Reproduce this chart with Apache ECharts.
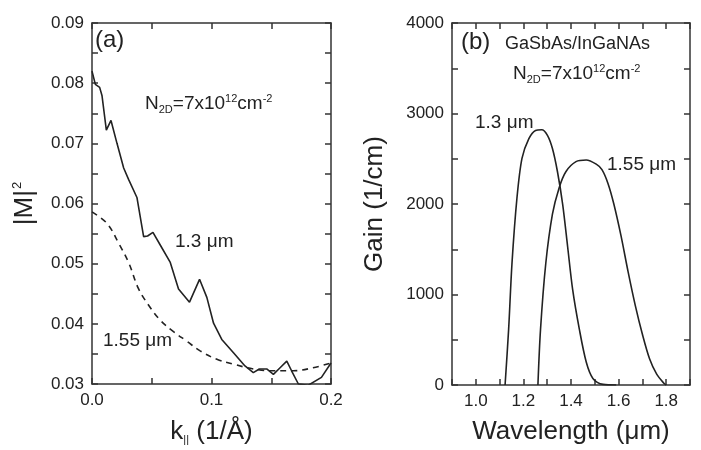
<!DOCTYPE html>
<html lang="en">
<head>
<meta charset="utf-8">
<title>|M|^2 and Gain</title>
<script src="https://cdn.jsdelivr.net/npm/echarts@6/dist/echarts.min.js"></script>
<style>
  html, body { margin: 0; padding: 0; background: #fff; }
  #chart { width: 701px; height: 450px; }
</style>
</head>
<body>
<div id="chart"></div>
<script type="text/javascript">
// (a) momentum matrix element vs k_parallel
var k13 = [0, 0.0028, 0.0064, 0.0084, 0.012, 0.0159, 0.0209, 0.0265, 0.0306, 0.0376, 0.0432, 0.0465, 0.051, 0.0571, 0.0655, 0.0724, 0.0816, 0.090, 0.0961, 0.1017, 0.1086, 0.1184, 0.128, 0.135, 0.140, 0.1462, 0.1518, 0.1574, 0.163, 0.167, 0.1727, 0.181, 0.192, 0.2];
var m13 = [0.0820, 0.0798, 0.0793, 0.0779, 0.0722, 0.0738, 0.0700, 0.0659, 0.0640, 0.0610, 0.0545, 0.0546, 0.0552, 0.0531, 0.0502, 0.0458, 0.0436, 0.0474, 0.0444, 0.0401, 0.0374, 0.0352, 0.0330, 0.0319, 0.0325, 0.0325, 0.0316, 0.0327, 0.0338, 0.0322, 0.0300, 0.0298, 0.0311, 0.0335];
var k155 = [0, 0.0125, 0.0223, 0.0306, 0.039, 0.0474, 0.0571, 0.0682, 0.0794, 0.0905, 0.1045, 0.1184, 0.135, 0.152, 0.1685, 0.185, 0.2];
var m155 = [0.0586, 0.0567, 0.0534, 0.0502, 0.0458, 0.0431, 0.0406, 0.0387, 0.0371, 0.0355, 0.0341, 0.0333, 0.0325, 0.0322, 0.0322, 0.0327, 0.0335];

// (b) gain spectra
var wl13 = [1.123, 1.138, 1.152, 1.173, 1.194, 1.223, 1.251, 1.277, 1.301, 1.322, 1.343, 1.365, 1.386, 1.407, 1.435, 1.464, 1.492, 1.535, 1.59];
var gain13 = [0, 617, 1343, 2069, 2505, 2722, 2813, 2820, 2759, 2613, 2359, 1996, 1525, 1053, 617, 254, 73, 7, 0];
var wl155 = [1.261, 1.272, 1.294, 1.322, 1.350, 1.379, 1.421, 1.464, 1.506, 1.53, 1.555, 1.58, 1.61, 1.64, 1.67, 1.70, 1.73, 1.76, 1.79, 1.80];
var gain155 = [0, 617, 1343, 1887, 2178, 2359, 2468, 2486, 2440, 2380, 2230, 2000, 1650, 1250, 880, 560, 290, 120, 20, 0];

function zip(xs, ys) {
  var out = [];
  for (var i = 0; i < xs.length; i++) out.push([xs[i], ys[i]]);
  return out;
}

var FONT = 'Liberation Sans, Arial, sans-serif';
var INK = '#222';
var FRAME = '#333';

var chart = echarts.init(document.getElementById('chart'));

function boxAxis(grid, pos, min, max, interval, labels, fmt, name, nameGap) {
  return {
    type: 'value', gridIndex: grid, position: pos, min: min, max: max, interval: interval,
    splitLine: { show: false },
    axisLine: { show: true, onZero: false, lineStyle: { color: FRAME, width: 1.5 } },
    axisTick: { show: true, inside: true, length: 6, interval: 0, lineStyle: { color: FRAME, width: 1.5 } },
    axisLabel: { show: labels, color: INK, fontFamily: FONT, fontSize: 17, margin: 8, formatter: fmt },
    name: name || '', nameLocation: 'middle', nameGap: nameGap || 0,
    nameTextStyle: { color: INK, fontFamily: FONT, fontSize: 26 }
  };
}

var fmtA_x = function (v) { var n = Math.round(v * 20); return n % 2 === 0 ? (n / 20).toFixed(1) : ''; };
var fmtA_y = function (v) { var n = Math.round(v * 200); return n % 2 === 0 ? (n / 200).toFixed(2) : ''; };
var fmtB_x = function (v) { var n = Math.round(v * 10); return n % 2 === 0 ? (n / 10).toFixed(1) : ''; };
var fmtB_y = function (v) { var n = Math.round(v); return n % 1000 === 0 ? String(n) : ''; };

var xA = boxAxis(0, 'bottom', 0, 0.2, 0.05, true, fmtA_x, '', 0);
xA.name = 'k{sub|||} (1/Å)';
xA.nameGap = 34;
xA.nameTextStyle.rich = { sub: { fontSize: 11, fontFamily: FONT, color: INK, padding: [16, 0, 0, 0] } };

var yA = boxAxis(0, 'left', 0.03, 0.09, 0.005, true, fmtA_y, '', 0);
yA.name = '|M|{sup|2}';
yA.nameGap = 54;
yA.nameTextStyle.rich = { sup: { fontSize: 13, fontFamily: FONT, color: INK, padding: [0, 0, 14, 1] } };

var option = {
  animation: false,
  backgroundColor: '#fff',
  grid: [
    { left: 92, right: 370, top: 23, bottom: 60 },
    { left: 452, right: 11, top: 23, bottom: 60 }
  ],
  xAxis: [
    xA,
    boxAxis(0, 'top', 0, 0.2, 0.05, false),
    boxAxis(1, 'bottom', 0.9, 1.9, 0.1, true, fmtB_x, 'Wavelength (μm)', 34),
    boxAxis(1, 'top', 0.9, 1.9, 0.1, false)
  ],
  yAxis: [
    yA,
    boxAxis(0, 'right', 0.03, 0.09, 0.005, false),
    boxAxis(1, 'left', 0, 4000, 500, true, fmtB_y, 'Gain (1/cm)', 64),
    boxAxis(1, 'right', 0, 4000, 500, false)
  ],
  series: [
    { type: 'line', xAxisIndex: 0, yAxisIndex: 0, data: zip(k13, m13), showSymbol: false,
      lineStyle: { color: INK, width: 1.6 }, clip: true },
    { type: 'line', xAxisIndex: 0, yAxisIndex: 0, data: zip(k155, m155), showSymbol: false, smooth: 0.4,
      lineStyle: { color: INK, width: 1.6, type: [6, 5] }, clip: true },
    { type: 'line', xAxisIndex: 2, yAxisIndex: 2, data: zip(wl13, gain13), showSymbol: false, smooth: 0.3,
      lineStyle: { color: INK, width: 1.6 }, clip: true },
    { type: 'line', xAxisIndex: 2, yAxisIndex: 2, data: zip(wl155, gain155), showSymbol: false, smooth: 0.3,
      lineStyle: { color: INK, width: 1.6 }, clip: true }
  ],
  graphic: [
    { type: 'text', left: 95, top: 28, style: { text: '(a)', font: '24px ' + FONT, fill: INK } },
    { type: 'text', left: 145, top: 93, style: {
      text: 'N{sub|2D}=7x10{sup|12}cm{sup|-2}', font: '19px ' + FONT, fill: INK,
      rich: { sub: { fontSize: 11, fontFamily: FONT, fill: INK, padding: [12, 0, 0, 0] },
              sup: { fontSize: 11, fontFamily: FONT, fill: INK, padding: [0, 0, 10, 0] } } } },
    { type: 'text', left: 175, top: 232, style: { text: '1.3 μm', font: '19px ' + FONT, fill: INK } },
    { type: 'text', left: 103, top: 331, style: { text: '1.55 μm', font: '19px ' + FONT, fill: INK } },
    { type: 'text', left: 461, top: 30, style: { text: '(b)', font: '24px ' + FONT, fill: INK } },
    { type: 'text', left: 505, top: 35, style: { text: 'GaSbAs/InGaNAs', font: '18px ' + FONT, fill: INK } },
    { type: 'text', left: 513, top: 63, style: {
      text: 'N{sub|2D}=7x10{sup|12}cm{sup|-2}', font: '19px ' + FONT, fill: INK,
      rich: { sub: { fontSize: 11, fontFamily: FONT, fill: INK, padding: [12, 0, 0, 0] },
              sup: { fontSize: 11, fontFamily: FONT, fill: INK, padding: [0, 0, 10, 0] } } } },
    { type: 'text', left: 475, top: 113, style: { text: '1.3 μm', font: '19px ' + FONT, fill: INK } },
    { type: 'text', left: 607, top: 155, style: { text: '1.55 μm', font: '19px ' + FONT, fill: INK } }
  ]
};

chart.setOption(option);
</script>
</body>
</html>
